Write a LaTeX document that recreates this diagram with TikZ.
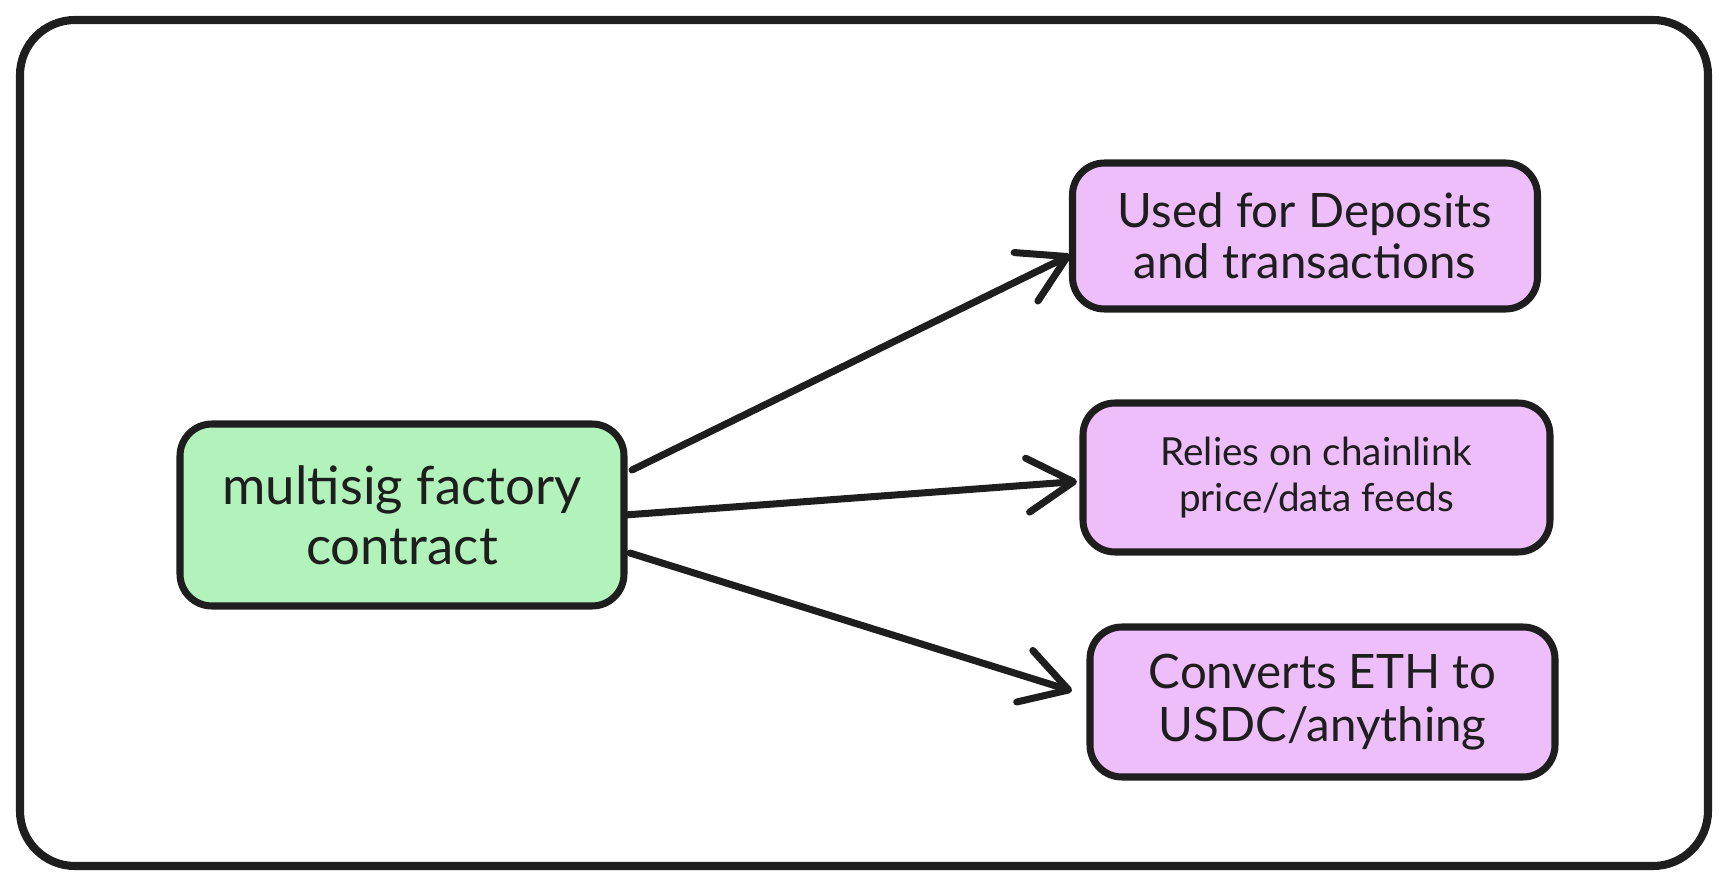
\documentclass[tikz,border=0pt]{standalone}
\usepackage{fontspec}
\setmainfont{Lato}
\usetikzlibrary{positioning,arrows.meta}

\definecolor{inkdark}{HTML}{1E1E1E}
\definecolor{mintfill}{HTML}{B2F2BB}
\definecolor{lilacfill}{HTML}{EEBEFA}

\begin{document}
\begin{tikzpicture}[
    every node/.style={
        inner sep=0pt,
        outer sep=0pt,
    },
    frame/.style={
        draw=inkdark,
        line width=2.3pt,
        rounded corners=.55cm,
    },
    box/.style n args={3}{
        draw=inkdark,fill=#1,rectangle,
        line width=2pt,
        align=center,
        text=inkdark,
        % font=\large,
        minimum width=#2 cm,
        minimum height=#3 cm,
        rounded corners=.32cm,
    },
    link/.style={
        draw=inkdark,
        line width=2pt,
        line cap=round,
        -{Straight Barb[length=4.6mm,width=5.4mm,round]},
    }
]
    \useasboundingbox (0,0) rectangle (17.28,-8.86);
    \draw[frame] (.2,-.2) rectangle (17.08,-8.66);

    \node[box={mintfill}{4.44}{1.82},font=\fontsize{15}{17}\selectfont] (factory) at (4.02,-5.15) {multisig factory\\contract};
    \node[box={lilacfill}{4.65}{1.46},font=\fontsize{13.5}{14.5}\selectfont] (deposits) at (13.05,-2.36) {Used for Deposits\\and transactions};
    \node[box={lilacfill}{4.67}{1.49},font=\fontsize{11}{13}\selectfont] (feeds) at (13.165,-4.775) {Relies on chainlink\\price/data feeds};
    \node[box={lilacfill}{4.65}{1.50},font=\fontsize{13.5}{15}\selectfont] (convert) at (13.225,-7.02) {Converts ETH to\\USDC/anything};

    \draw[link] ([xshift=.08cm,yshift=.45cm]factory.east) -- ([xshift=-.02cm,yshift=-.19cm]deposits.west);
    \draw[link] ([xshift=.01cm]factory.east) -- ([xshift=-.06cm,yshift=-.04cm]feeds.west);
    \draw[link] ([xshift=.06cm,yshift=-.38cm]factory.east) -- ([xshift=-.18cm,yshift=.11cm]convert.west);
\end{tikzpicture}
\end{document}
